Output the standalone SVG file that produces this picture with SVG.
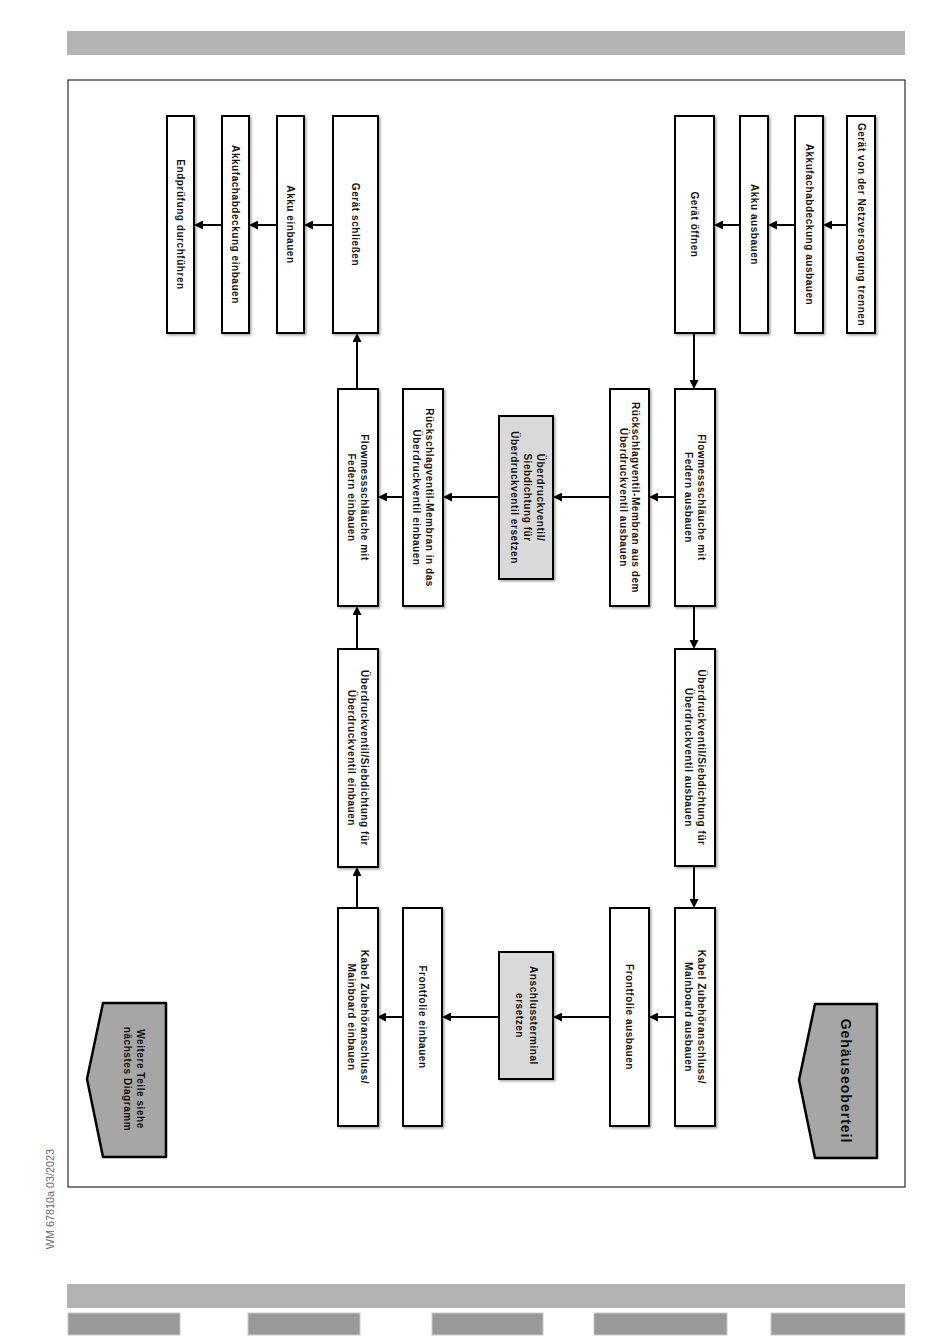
<svg xmlns="http://www.w3.org/2000/svg" width="950" height="1344" viewBox="0 0 950 1344">
<style>
.bx{fill:#fff;stroke:#000;stroke-width:2;filter:url(#sh)}
.gb{fill:#d9d9d9;stroke:#000;stroke-width:2;filter:url(#sh)}
.pg{fill:#a6a6a6;stroke:#000;stroke-width:2.5;stroke-linejoin:round}
.t{font-family:"Liberation Sans",Arial,sans-serif;font-weight:bold;font-size:10px;letter-spacing:0.55px;fill:#111;text-anchor:middle}
.c{stroke:#000;stroke-width:2;fill:none;marker-end:url(#ah)}
</style>
<defs>
<marker id="ah" viewBox="0 0 10 10" refX="0" refY="5" markerWidth="9" markerHeight="9" markerUnits="userSpaceOnUse" orient="auto"><path d="M0,0 L10,5 L0,10 z" fill="#000"/></marker>
<filter id="sh" x="-20%" y="-20%" width="140%" height="140%"><feDropShadow dx="1.5" dy="1.5" stdDeviation="1" flood-color="#000" flood-opacity="0.35"/></filter>
</defs>
<rect width="950" height="1344" fill="#fff"/>
<g id="page">
<rect x="67" y="31" width="838" height="24" fill="#b3b3b3"/>
<rect x="68" y="80" width="837" height="1107" fill="none" stroke="#000" stroke-width="1"/>
<rect x="67" y="1284" width="838" height="24" fill="#b3b3b3"/>
<g fill="#999" stroke="#c8c8c8" stroke-width="1">
<rect x="68" y="1313" width="112" height="22"/>
<rect x="248" y="1313" width="112" height="22"/>
<rect x="432" y="1313" width="111" height="22"/>
<rect x="594" y="1313" width="133" height="22"/>
<rect x="771" y="1313" width="134" height="22"/>
</g>
<text transform="translate(50,1199) rotate(-90)" y="3.8" font-family="Liberation Sans,Arial,sans-serif" font-size="10.8" fill="#666" text-anchor="middle">WM 67810a 03/2023</text>
</g>
<g id="connectors">
<line class="c" x1="847" y1="225" x2="832" y2="225"/>
<line class="c" x1="795" y1="225" x2="777" y2="225"/>
<line class="c" x1="740" y1="225" x2="723" y2="225"/>
<line class="c" x1="694" y1="333" x2="694" y2="380"/>
<line class="c" x1="333" y1="225" x2="313" y2="225"/>
<line class="c" x1="277" y1="225" x2="258" y2="225"/>
<line class="c" x1="222" y1="225" x2="203" y2="225"/>
<line class="c" x1="357" y1="389" x2="357" y2="342"/>
<line class="c" x1="675" y1="497" x2="658" y2="497"/>
<line class="c" x1="610" y1="497" x2="562" y2="497"/>
<line class="c" x1="499" y1="497" x2="452" y2="497"/>
<line class="c" x1="403" y1="497" x2="387" y2="497"/>
<line class="c" x1="694" y1="606" x2="694" y2="640"/>
<line class="c" x1="357" y1="649" x2="357" y2="615"/>
<line class="c" x1="694" y1="866" x2="694" y2="899"/>
<line class="c" x1="357" y1="908" x2="357" y2="876"/>
<line class="c" x1="675" y1="1017" x2="658" y2="1017"/>
<line class="c" x1="610" y1="1017" x2="562" y2="1017"/>
<line class="c" x1="499" y1="1017" x2="451" y2="1017"/>
<line class="c" x1="403" y1="1017" x2="386" y2="1017"/>
</g>
<g id="n1"><rect class="bx" x="847" y="116" width="28" height="217"/><text class="t" transform="translate(861,224.5) rotate(90)" y="3.5">Gerät von der Netzversorgung trennen</text></g>
<g id="n2"><rect class="bx" x="795" y="116" width="28" height="217"/><text class="t" transform="translate(809,224.5) rotate(90)" y="3.5">Akkufachabdeckung ausbauen</text></g>
<g id="n3"><rect class="bx" x="740" y="116" width="28" height="217"/><text class="t" transform="translate(754,224.5) rotate(90)" y="3.5">Akku ausbauen</text></g>
<g id="n4"><rect class="bx" x="675" y="116" width="39" height="217"/><text class="t" transform="translate(694.5,224.5) rotate(90)" y="3.5">Gerät öffnen</text></g>
<g id="n5"><rect class="bx" x="675" y="389" width="40" height="217"/><text class="t" transform="translate(695,497.5) rotate(90)"><tspan x="0" y="-2.75">Flowmessschläuche mit</tspan><tspan x="0" y="9.75">Federn ausbauen</tspan></text></g>
<g id="n6"><rect class="bx" x="610" y="389" width="39" height="217"/><text class="t" transform="translate(629.5,497.5) rotate(90)"><tspan x="0" y="-2.75">Rückschlagventil-Membran aus dem</tspan><tspan x="0" y="9.75">Überdruckventil ausbauen</tspan></text></g>
<g id="n7"><rect class="gb" x="499" y="416" width="54" height="163"/><text class="t" transform="translate(527,497.5) rotate(90)"><tspan x="0" y="-9.5">Überdruckventil/</tspan><tspan x="0" y="3.5">Siebdichtung für</tspan><tspan x="0" y="16.5">Überdruckventil ersetzen</tspan></text></g>
<g id="n8"><rect class="bx" x="403" y="389" width="40" height="217"/><text class="t" transform="translate(423,497.5) rotate(90)"><tspan x="0" y="-2.75">Rückschlagventil-Membran in das</tspan><tspan x="0" y="9.75">Überdruckventil einbauen</tspan></text></g>
<g id="n9"><rect class="bx" x="338" y="389" width="40" height="217"/><text class="t" transform="translate(358,497.5) rotate(90)"><tspan x="0" y="-2.75">Flowmessschläuche mit</tspan><tspan x="0" y="9.75">Federn einbauen</tspan></text></g>
<g id="n10"><rect class="bx" x="675" y="649" width="40" height="217"/><text class="t" transform="translate(695,757.5) rotate(90)"><tspan x="0" y="-2.75">Überdruckventil/Siebdichtung für</tspan><tspan x="0" y="9.75">Überdruckventil ausbauen</tspan></text></g>
<g id="n11"><rect class="bx" x="338" y="649" width="40" height="218"/><text class="t" transform="translate(358,758) rotate(90)"><tspan x="0" y="-2.75">Überdruckventil/Siebdichtung für</tspan><tspan x="0" y="9.75">Überdruckventil einbauen</tspan></text></g>
<g id="n12"><rect class="bx" x="675" y="908" width="40" height="218"/><text class="t" transform="translate(695,1017) rotate(90)"><tspan x="0" y="-2.75">Kabel Zubehöranschluss/</tspan><tspan x="0" y="9.75">Mainboard ausbauen</tspan></text></g>
<g id="n13"><rect class="bx" x="610" y="908" width="39" height="218"/><text class="t" transform="translate(629.5,1017) rotate(90)" y="3.5">Frontfolie ausbauen</text></g>
<g id="n14"><rect class="gb" x="499" y="952" width="54" height="127"/><text class="t" transform="translate(526,1015.5) rotate(90)"><tspan x="0" y="-3.5">Anschlussterminal</tspan><tspan x="0" y="10.5">ersetzen</tspan></text></g>
<g id="n15"><rect class="bx" x="403" y="908" width="39" height="218"/><text class="t" transform="translate(422.5,1017) rotate(90)" y="3.5">Frontfolie einbauen</text></g>
<g id="n16"><rect class="bx" x="338" y="908" width="40" height="218"/><text class="t" transform="translate(358,1017) rotate(90)"><tspan x="0" y="-2.75">Kabel Zubehöranschluss/</tspan><tspan x="0" y="9.75">Mainboard einbauen</tspan></text></g>
<g id="n17"><rect class="bx" x="333" y="116" width="45" height="217"/><text class="t" transform="translate(355.5,224.5) rotate(90)" y="3.5">Gerät schließen</text></g>
<g id="n18"><rect class="bx" x="277" y="116" width="27" height="217"/><text class="t" transform="translate(290.5,224.5) rotate(90)" y="3.5">Akku einbauen</text></g>
<g id="n19"><rect class="bx" x="222" y="116" width="27" height="217"/><text class="t" transform="translate(235.5,224.5) rotate(90)" y="3.5">Akkufachabdeckung einbauen</text></g>
<g id="n20"><rect class="bx" x="167" y="116" width="27" height="217"/><text class="t" transform="translate(180.5,224.5) rotate(90)" y="3.5">Endprüfung durchführen</text></g>
<g id="p1"><path class="pg" d="M815,1004 L877,1004 L877,1158 L815,1158 L799,1080 Z"/><text class="t" transform="translate(846,1081) rotate(90)" y="5" style="font-size:14px;letter-spacing:1px">Gehäuseoberteil</text></g>
<g id="p2"><path class="pg" d="M103,1003 L166,1003 L166,1157 L103,1157 L87,1079 Z"/><text class="t" transform="translate(134,1079) rotate(90)"><tspan x="0" y="-2.75">Weitere Teile siehe</tspan><tspan x="0" y="9.75">nächstes Diagramm</tspan></text></g>
</svg>
